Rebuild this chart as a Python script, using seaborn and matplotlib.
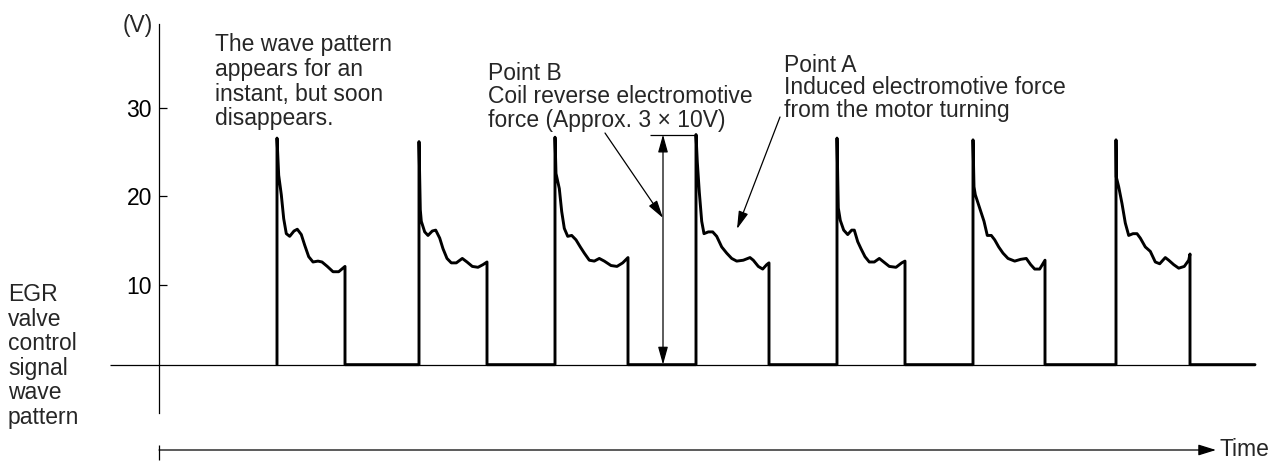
import matplotlib
matplotlib.use("Agg")
import matplotlib.pyplot as plt
import pandas as pd
import seaborn as sns

# ---- signal data (time in arbitrary units, voltage in V) ----
rise_times = [118, 260, 396, 537, 678, 814, 957]
fall_times = [186, 328, 469, 610, 746, 886, 1031]
peak_volts = [26.6, 26.2, 26.7, 27.0, 26.6, 26.4, 26.4]

# waveform after each spike: offsets from the rising edge and the voltage there
wave_offsets = [
    [1.7, 4.3, 6.7, 9.3, 12.7, 17, 20.3, 24.3, 27.7, 31.7, 36, 41, 45, 50.3, 56, 61.7, 66, 68],
    [1.3, 2.3, 5.7, 9, 13.3, 16.7, 20.7, 24, 28, 32.3, 37.3, 43.3, 48, 53.3, 59, 64, 68],
    [1, 4.3, 6.7, 9.3, 12.7, 16.7, 21, 25.3, 29.3, 34.3, 39.3, 44.3, 49.3, 56, 62, 67.7, 73],
    [1.3, 3.3, 5.7, 8, 12.3, 16.7, 20.7, 25.7, 30.7, 35.7, 40.7, 47.3, 54, 57.3, 62.3, 66.7, 70.7, 73],
    [1.3, 3.3, 6.7, 10.7, 14.7, 17.3, 20.7, 24, 28, 32.3, 37.3, 42.3, 46.7, 52.3, 59, 64.7, 68],
    [1, 2.3, 6.7, 11, 14.3, 18.3, 21.7, 25.7, 30, 35, 41.7, 47.7, 53.3, 57.7, 61.7, 66.7, 71, 72],
    [0.3, 2.7, 6, 9.3, 12.7, 17, 21, 24.3, 29.3, 34.3, 39.3, 43.7, 49.3, 52.7, 57.7, 62.7, 68.3, 72.7, 74],
]
wave_volts = [
    [22.4, 20.2, 17.5, 15.8, 15.5, 16.1, 16.3, 15.7, 14.5, 13.2, 12.6, 12.7, 12.6, 12.1, 11.5, 11.5, 11.9, 12.1],
    [18.5, 17.2, 16.0, 15.6, 16.1, 16.2, 15.3, 14.1, 13.0, 12.5, 12.5, 13.0, 12.6, 12.1, 12.0, 12.3, 12.6],
    [22.6, 20.9, 18.3, 16.4, 15.5, 15.6, 15.1, 14.3, 13.6, 12.8, 12.7, 13.0, 12.7, 12.2, 12.1, 12.5, 13.1],
    [23.9, 20.5, 17.2, 15.8, 16.0, 16.0, 15.5, 14.3, 13.6, 13.0, 12.7, 12.8, 13.1, 12.8, 12.1, 11.8, 12.3, 12.5],
    [18.7, 17.3, 16.2, 15.7, 16.2, 16.2, 14.9, 14.1, 13.2, 12.6, 12.6, 13.0, 12.6, 12.1, 12.0, 12.5, 12.7],
    [21.1, 20.2, 18.7, 17.2, 15.6, 15.6, 15.1, 14.3, 13.6, 13.0, 12.7, 12.9, 13.0, 12.3, 11.8, 11.8, 12.6, 12.8],
    [22.2, 21.1, 19.2, 17.0, 15.6, 15.8, 15.8, 15.3, 14.3, 13.8, 12.6, 12.4, 13.1, 12.8, 12.3, 11.9, 12.1, 12.8, 13.5],
]
low_level = 1.0
trace_end = 1096
baseline_start = -49
ytick_values = [10, 20, 30]
ytick_labels = ["10", "20", "30"]

# ---- build the continuous trace ----
rows = []
for r, f, pk, offs, vs in zip(rise_times, fall_times, peak_volts, wave_offsets, wave_volts):
    rows.append((r, low_level))
    rows.append((r, pk))
    for o, v in zip(offs, vs):
        rows.append((r + o, v))
    rows.append((f, low_level))
rows.append((trace_end, low_level))
trace = pd.DataFrame(rows, columns=["time", "volts"])

sns.set_theme(style="white")
plt.rcParams["font.family"] = ["Liberation Sans", "DejaVu Sans"]
FS = 16.5

fig = plt.figure(figsize=(12.69, 4.61), dpi=100)
ax = fig.add_axes([0, 0, 1, 1])
ax.set_xlim(-159, 1110)
ax.set_ylim(-9.887, 42.203)


def pix(px, py):
    """Convert a position on the sheet to data coordinates."""
    return px - 159, (373.5 - py) / 8.85


# thin reference line for the low level
ax.hlines(low_level, baseline_start, trace_end, color="black", lw=0.9)

sns.lineplot(data=trace, x="time", y="volts", sort=False, estimator=None,
             color="black", lw=2.1, ax=ax, legend=False,
             solid_joinstyle="round")

# voltage axis
for s in ("top", "right", "bottom"):
    ax.spines[s].set_visible(False)
ax.spines["left"].set_position(("data", 0))
ax.spines["left"].set_bounds(pix(0, 413)[1], pix(0, 24)[1])
ax.spines["left"].set_color("black")
ax.spines["left"].set_linewidth(0.9)
ax.set_xticks([])
ax.set_yticks(ytick_values, ytick_labels)
ax.tick_params(axis="y", direction="in", length=5.5, width=0.9, pad=5,
               labelsize=FS, colors="black", left=True)
ax.set_xlabel("")
ax.set_ylabel("")

# time arrow
ty = pix(0, 450)[1]
ax.vlines(0, pix(0, 460)[1], pix(0, 445)[1], color="black", lw=0.9)
ax.annotate("", xy=(pix(1216, 0)[0], ty), xytext=(0, ty),
            arrowprops=dict(arrowstyle="-|>,head_length=0.9,head_width=0.28",
                            lw=0.9, color="black", shrinkA=0, shrinkB=0,
                            mutation_scale=12))
ax.text(*pix(1219, 450), "Time", ha="left", va="center", fontsize=FS)

# texts
ax.text(*pix(123, 14), "(V)", ha="left", va="top", fontsize=FS)
ax.text(*pix(215, 33), "The wave pattern\nappears for an\ninstant, but soon\ndisappears.",
        ha="left", va="top", fontsize=FS, linespacing=1.1)
ax.text(*pix(488, 62), "Point B\nCoil reverse electromotive\nforce (Approx. 3 \u00d7 10V)",
        ha="left", va="top", fontsize=FS, linespacing=1.02)
ax.text(*pix(784, 54), "Point A\nInduced electromotive force\nfrom the motor turning",
        ha="left", va="top", fontsize=FS, linespacing=0.97)
ax.text(*pix(8, 283), "EGR\nvalve\ncontrol\nsignal\nwave\npattern",
        ha="left", va="top", fontsize=FS, linespacing=1.09)

# Point B: coil reverse EMF span on the fourth pulse
k = 3
span_t = pix(663, 0)[0]
ax.hlines(peak_volts[k], pix(650, 0)[0], rise_times[k], color="black", lw=0.9)
ax.annotate("", xy=(span_t, peak_volts[k]), xytext=(span_t, low_level),
            arrowprops=dict(arrowstyle="<|-|>,head_length=0.9,head_width=0.25",
                            lw=0.9, color="black", shrinkA=0, shrinkB=0,
                            mutation_scale=12))
ax.annotate("", xy=(span_t, pix(0, 218)[1]), xytext=pix(605, 133),
            arrowprops=dict(arrowstyle="-|>,head_length=0.9,head_width=0.25",
                            lw=0.9, color="black", shrinkA=0, shrinkB=0,
                            mutation_scale=12))
# Point A: induced EMF pointer
ax.annotate("", xy=pix(737, 229), xytext=pix(780, 117),
            arrowprops=dict(arrowstyle="-|>,head_length=0.9,head_width=0.25",
                            lw=0.9, color="black", shrinkA=0, shrinkB=0,
                            mutation_scale=12))

fig.savefig("out.png", dpi=100, facecolor="white")
